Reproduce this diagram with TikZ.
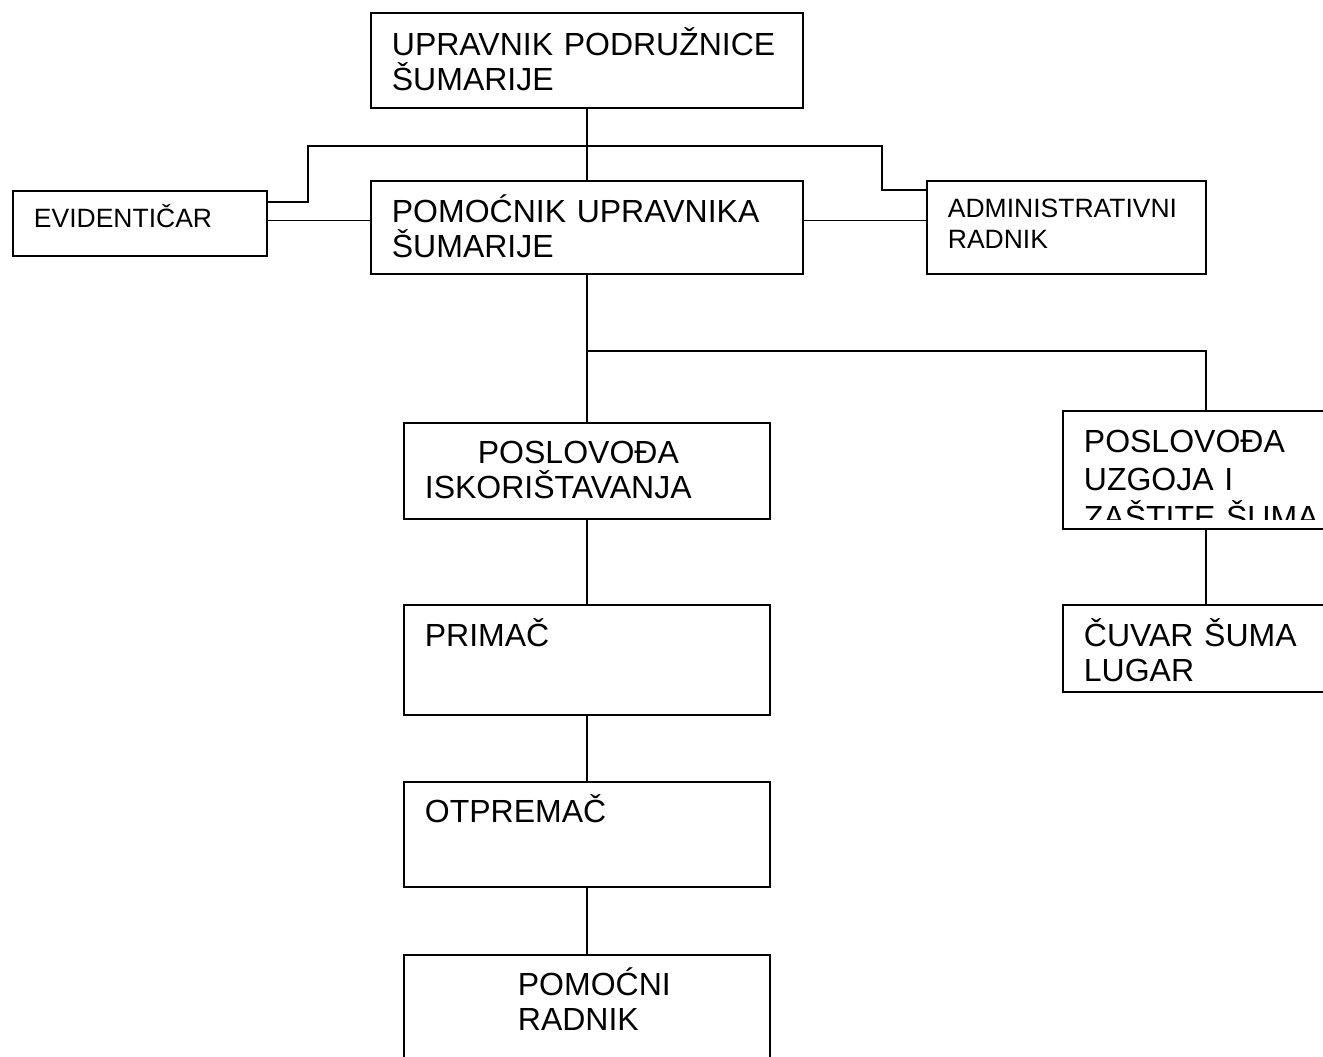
\documentclass[tikz,border=0pt]{standalone}
\usepackage{fontspec}
\setmainfont{Liberation Sans}
\usetikzlibrary{positioning}
\newcommand{\postfont}{\fontsize{32pt}{35pt}\selectfont}
\newcommand{\widepostfont}{\fontsize{32pt}{38pt}\selectfont}
\newcommand{\smallpostfont}{\fontsize{26.5pt}{30.5pt}\selectfont}
\tikzset{
  post/.style n args={3}{draw=black, line width=1.8pt, anchor=north west,
    align=left, inner xsep=21pt, inner ysep=0pt, font=\postfont,
    text width=#1, text height=#2, text depth=#3},
  small post/.style={font=\smallpostfont},
  link/.style={draw=black, line width=1.8pt}
}

\begin{document}
\begin{tikzpicture}[x=1pt, y=-1pt]
  \useasboundingbox (0,0) rectangle (1323,1057);

  \node[post={390pt}{43pt}{52pt}] (chief) at (370,12) {UPRAVNIK PODRUŽNICE\\ŠUMARIJE};
  \node[post={390pt}{42pt}{51pt}] (deputy) at (370,180) {POMOĆNIK UPRAVNIKA\\ŠUMARIJE};
  \node[post={212pt}{37pt}{28pt}, small post] (evid) at (12,190) {EVIDENTIČAR};
  \node[post={237pt}{37pt}{56pt}, small post] (admin) at (926,180) {ADMINISTRATIVNI\\RADNIK};

  \node[post={324pt}{41pt}{55pt}] (harvest) at (403,422) {\hspace*{53pt}POSLOVOĐA\\ISKORIŠTAVANJA};
  \node[post={324pt}{42pt}{68pt}] (receiver) at (403,604) {PRIMAČ};
  \node[post={324pt}{41pt}{64pt}] (shipper) at (403,781) {OTPREMAČ};
  \node[post={324pt}{41pt}{140pt}] (helper) at (403,954) {\hspace*{93pt}POMOĆNI\\\hspace*{93pt}RADNIK};

  \node[post={244pt}{42pt}{76pt}, font=\widepostfont] (silvi) at (1062,410) {POSLOVOĐA\\UZGOJA I\\ZAŠTITE ŠUMA};
  \node[post={244pt}{42pt}{45pt}] (ranger) at (1062,604) {ČUVAR ŠUMA\\LUGAR};
  % last line of the box is cut off
  \fill[white] ([xshift=1.5pt,yshift=1.5pt]silvi.south west) rectangle ([yshift=10pt]silvi.south east);

  \coordinate (busL) at (308,146);
  \coordinate (busR) at (882,146);
  \coordinate[below=76pt of deputy.south] (fork);

  \draw[link] (chief) -- (deputy);
  \draw[link] ([yshift=-12pt]evid.north east) -| (busL) -- (busR) |- ([yshift=-10pt]admin.north west);
  \draw[link] ([yshift=7pt]deputy.west) -- ([yshift=7pt]deputy.west -| evid.east);
  \draw[link] ([yshift=7pt]deputy.east) -- ([yshift=7pt]deputy.east -| admin.west);

  \draw[link] (deputy) -- (harvest);
  \draw[link] (fork) -| (silvi.north);
  \draw[link] (silvi) -- (ranger);
  \draw[link] (harvest) -- (receiver);
  \draw[link] (receiver) -- (shipper);
  \draw[link] (shipper) -- (helper);
\end{tikzpicture}
\end{document}
